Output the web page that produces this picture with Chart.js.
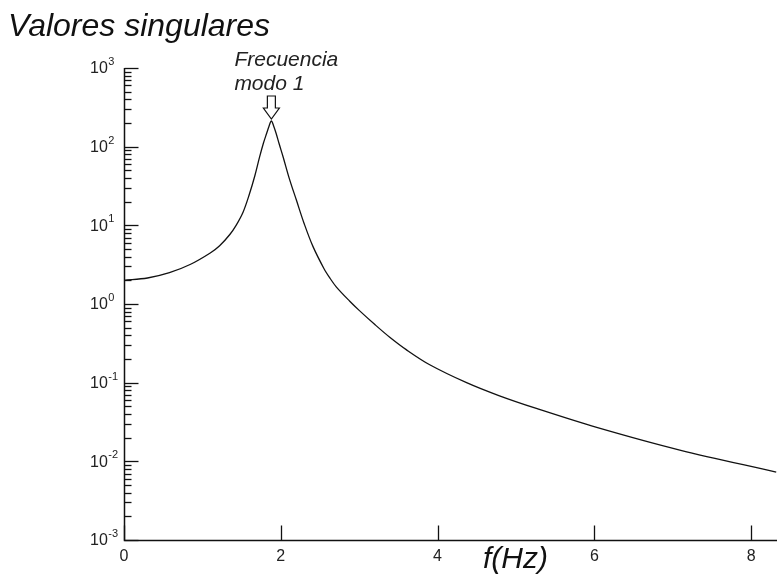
<!DOCTYPE html>
<html>
<head>
<meta charset="utf-8">
<script src="https://cdn.jsdelivr.net/npm/chart.js@4/dist/chart.umd.min.js"></script>
<style>
html,body{margin:0;padding:0;background:#fff;}
#wrap{width:777px;height:575px;position:relative;}
</style>
</head>
<body>
<div id="wrap"><canvas id="c" width="777" height="575"></canvas></div>
<script>
// Data
const freqHz = [0, 0.3, 0.58, 0.85, 1.1, 1.22, 1.35, 1.43, 1.52, 1.6, 1.67, 1.73, 1.78, 1.82, 1.85, 1.88, 1.91, 1.94, 1.98, 2.03, 2.11, 2.2, 2.3, 2.41, 2.55, 2.63, 2.71, 2.88, 3.0, 3.2, 3.39, 3.6, 3.9, 4.37, 4.79, 5.26, 6.03, 7.09, 8.32];
const singularValues = [2.0, 2.14, 2.5, 3.2, 4.45, 5.5, 7.65, 10, 14.8, 25, 43, 74, 112, 148, 182, 212, 182, 148, 108, 74, 39, 20.8, 10.4, 5.4, 2.83, 2.11, 1.64, 1.084, 0.83, 0.548, 0.378, 0.263, 0.169, 0.1, 0.068, 0.047, 0.027, 0.0139, 0.0073];
const xTicks = [0, 2, 4, 6, 8];
const yExponents = [-3, -2, -1, 0, 1, 2, 3];
const titleText = "Valores singulares";
const xAxisTitle = "f(Hz)";
const annotationLines = ["Frecuencia", "modo 1"];
const peakFreq = 1.88;
const peakValue = 212;

const points = freqHz.map((f, i) => ({x: f, y: singularValues[i]}));

const axesPlugin = {
  id: 'axesPlugin',
  afterDraw(chart) {
    const ctx = chart.ctx;
    const xs = chart.scales.x, ys = chart.scales.y;
    const ca = chart.chartArea;
    const left = Math.round(ca.left) + 0.5;
    const bottom = Math.round(ca.bottom) + 0.5;
    const top = ys.getPixelForValue(Math.pow(10, 3));
    ctx.save();
    ctx.strokeStyle = '#111';
    ctx.lineWidth = 1.5;
    ctx.beginPath();
    ctx.moveTo(left, Math.round(top));
    ctx.lineTo(left, bottom);
    ctx.lineTo(chart.width, bottom);
    ctx.stroke();
    ctx.lineWidth = 1.3;
    for (let e of yExponents) {
      const y = Math.round(ys.getPixelForValue(Math.pow(10, e))) + 0.5;
      ctx.beginPath();
      ctx.moveTo(left, y); ctx.lineTo(left + 14, y); ctx.stroke();
      if (e < 3) {
        for (let m = 2; m <= 9; m++) {
          const ym = Math.round(ys.getPixelForValue(m * Math.pow(10, e))) + 0.5;
          ctx.beginPath();
          ctx.moveTo(left, ym); ctx.lineTo(left + 7, ym); ctx.stroke();
        }
      }
    }
    ctx.fillStyle = '#222';
    ctx.textBaseline = 'middle';
    ctx.textAlign = 'left';
    for (let e of yExponents) {
      const y = ys.getPixelForValue(Math.pow(10, e));
      ctx.font = '16px "Liberation Sans", Arial, sans-serif';
      ctx.fillText('10', 90, y + 1);
      const w = ctx.measureText('10').width;
      ctx.font = '11px "Liberation Sans", Arial, sans-serif';
      ctx.fillText(String(e), 90 + w + 0.5, y - 6);
    }
    for (let t of xTicks) {
      const x = Math.round(xs.getPixelForValue(t)) + 0.5;
      ctx.beginPath();
      ctx.moveTo(x, bottom); ctx.lineTo(x, bottom - 15); ctx.stroke();
    }
    ctx.font = '16px "Liberation Sans", Arial, sans-serif';
    ctx.textAlign = 'center';
    ctx.textBaseline = 'top';
    for (let t of xTicks) {
      const x = xs.getPixelForValue(t);
      ctx.fillText(String(t), x, bottom + 8);
    }
    ctx.fillStyle = '#111';
    ctx.font = 'italic 30px "Liberation Sans", Arial, sans-serif';
    ctx.textAlign = 'left';
    ctx.textBaseline = 'alphabetic';
    ctx.fillText(xAxisTitle, 483, 568);
    ctx.font = 'italic 32px "Liberation Sans", Arial, sans-serif';
    ctx.fillText(titleText, 8, 36);
    const px = xs.getPixelForValue(peakFreq);
    const py = ys.getPixelForValue(peakValue);
    ctx.fillStyle = '#222';
    ctx.font = 'italic 21px "Liberation Sans", Arial, sans-serif';
    ctx.fillText(annotationLines[0], px - 37, 66);
    ctx.fillText(annotationLines[1], px - 37, 90);
    const tipY = py - 2;
    ctx.strokeStyle = '#111';
    ctx.lineWidth = 1.2;
    ctx.fillStyle = '#fff';
    ctx.beginPath();
    ctx.moveTo(px - 4, tipY - 23);
    ctx.lineTo(px + 4, tipY - 23);
    ctx.lineTo(px + 4, tipY - 11);
    ctx.lineTo(px + 8, tipY - 11);
    ctx.lineTo(px, tipY);
    ctx.lineTo(px - 8, tipY - 11);
    ctx.lineTo(px - 4, tipY - 11);
    ctx.closePath();
    ctx.fill();
    ctx.stroke();
    ctx.restore();
  }
};

new Chart(document.getElementById('c'), {
  type: 'line',
  data: {
    datasets: [{
      data: points,
      borderColor: '#111',
      borderWidth: 1.3,
      pointRadius: 0,
      fill: false,
      tension: 0.35
    }]
  },
  options: {
    responsive: false,
    animation: false,
    devicePixelRatio: 1,
    layout: {padding: {left: 124, right: 0, top: 68, bottom: 35}},
    plugins: {legend: {display: false}, tooltip: {enabled: false}},
    scales: {
      x: {type: 'linear', min: 0, max: 8.33, display: false},
      y: {type: 'logarithmic', min: 0.001, max: 1000, display: false}
    }
  },
  plugins: [axesPlugin]
});
</script>
</body>
</html>
